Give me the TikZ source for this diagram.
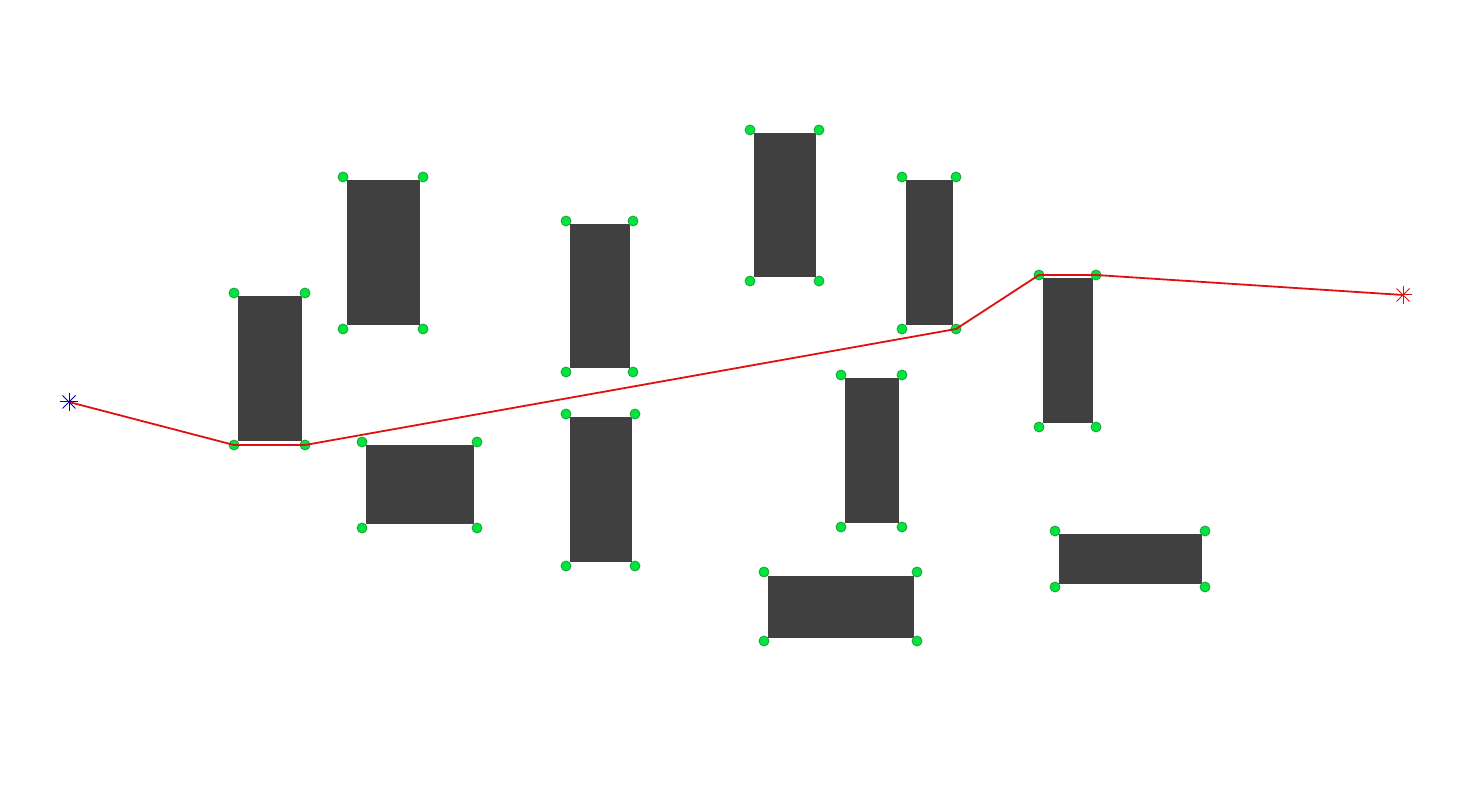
\documentclass[tikz,border=0pt]{standalone}
\definecolor{obst}{HTML}{404040}
\definecolor{vgreen}{HTML}{00E63C}
\definecolor{vedge}{HTML}{1E9E3E}
\definecolor{routered}{HTML}{E01010}
\tikzset{
  vertex/.style={circle,fill=vgreen,draw=vedge,line width=0.4pt,inner sep=0pt,minimum size=5pt},
  obstacle/.style={fill=obst},
  route/.style={draw=routered,line width=0.9pt,line join=round},
  starmark/.style={line width=0.5pt}
}
\begin{document}
\begin{tikzpicture}[x=0.5pt,y=-0.5pt]
\useasboundingbox (0,0) rectangle (1481,795);
\foreach \n/\xa/\ya/\xb/\yb in {1/234/293/305/445, 2/343/177/423/329, 3/566/221/633/372, 4/750/130/819/281, 5/902/177/956/329, 6/1039/275/1096/427, 7/362/442/477/528, 8/566/414/635/566, 9/841/375/902/527, 10/764/572/917/641, 11/1055/531/1205/587} {
  \fill[obstacle] (\xa+3.5,\ya+3.5) rectangle (\xb-3.5,\yb-3.5);
  \node[vertex] (v\n a) at (\xa,\ya) {};
  \node[vertex] (v\n b) at (\xb,\ya) {};
  \node[vertex] (v\n c) at (\xa,\yb) {};
  \node[vertex] (v\n d) at (\xb,\yb) {};
}
\coordinate (start) at (69,402);
\coordinate (goal) at (1403,295);
\draw[route] (start) -- (v1c.center) -- (v1d.center) -- (v5d.center) -- (v6a.center) -- (v6b.center) -- (goal);
\draw[starmark,blue!80!black] (start) ++(-9,0) -- ++(18,0);
\draw[starmark,blue!80!black] (start) ++(0,-9) -- ++(0,18);
\draw[starmark,blue!80!black] (start) ++(-6.5,-6.5) -- ++(13,13);
\draw[starmark,blue!80!black] (start) ++(-6.5,6.5) -- ++(13,-13);
\draw[starmark,routered] (goal) ++(-9,0) -- ++(18,0);
\draw[starmark,routered] (goal) ++(0,-9) -- ++(0,18);
\draw[starmark,routered] (goal) ++(-6.5,-6.5) -- ++(13,13);
\draw[starmark,routered] (goal) ++(-6.5,6.5) -- ++(13,-13);
\end{tikzpicture}
\end{document}
